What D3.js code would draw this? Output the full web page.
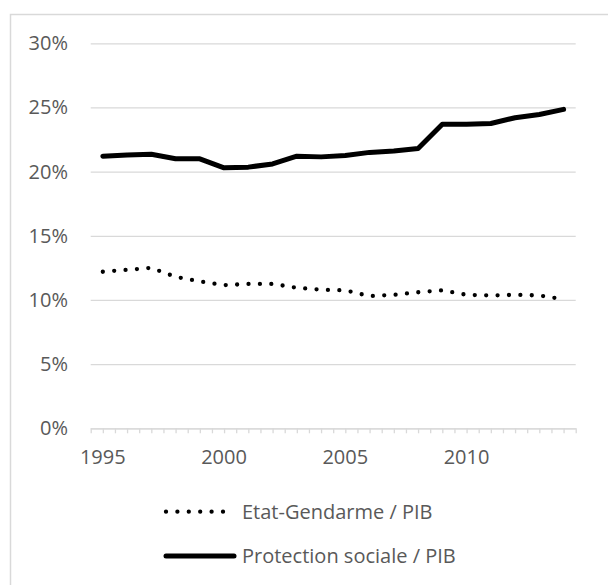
<!DOCTYPE html>
<html lang="fr">
  <head>
    <meta charset="UTF-8" />
    <title>Etat-Gendarme et Protection sociale / PIB</title>
    <script src="https://cdn.jsdelivr.net/npm/d3@7"></script>
    <style>
      body { margin: 0; background: #fff; }
      #chart { display: block; }
      text { font-family: 'Open Sans', 'Noto Sans', sans-serif; fill: #595959; }
    </style>
  </head>
  <body>
    <svg id="chart" width="608" height="585"></svg>
    <script>
      // données
      const years = d3.range(1995, 2015)
      const etatGendarme = [12.2, 12.35, 12.5, 11.8, 11.45, 11.15, 11.25, 11.25, 10.95, 10.8,
                            10.75, 10.3, 10.4, 10.6, 10.75, 10.4, 10.35, 10.4, 10.35, 10.05]
      const protectionSociale = [21.2, 21.3, 21.35, 21.0, 21.0, 20.3, 20.35, 20.6, 21.2, 21.15,
                                 21.25, 21.5, 21.6, 21.8, 23.7, 23.7, 23.75, 24.2, 24.45, 24.85]
      const yTicks = [0, 5, 10, 15, 20, 25, 30]
      const xLabels = [1995, 2000, 2005, 2010]
      const seriesNames = ['Etat-Gendarme / PIB', 'Protection sociale / PIB']

      const svg = d3.select('#chart')
      const plot = { left: 90.7, right: 575.7, top: 43.3, bottom: 428.3 }

      // cadre
      svg.append('rect')
        .attr('x', 10.5).attr('y', 14.5)
        .attr('width', 700).attr('height', 700)
        .attr('fill', 'none').attr('stroke', '#d9d9d9').attr('stroke-width', 1.5)

      const x = d3.scaleBand().domain(years).range([plot.left, plot.right])
      const xIdx = d3.scaleLinear().domain([-0.5, years.length - 0.5]).range([plot.left, plot.right])
      const y = d3.scaleLinear().domain([0, 30]).range([plot.bottom, plot.top])
      const cx = d => x(d) + x.bandwidth() / 2

      // grille + étiquettes Y
      const yAxis = svg.append('g')
        .attr('transform', `translate(${plot.left},0)`)
        .call(d3.axisLeft(y).tickValues(yTicks).tickSize(-(plot.right - plot.left))
          .tickPadding(22.7).tickFormat(d => d + '%'))
      yAxis.select('.domain').remove()
      yAxis.selectAll('line').attr('stroke', '#d9d9d9').attr('stroke-width', 1.3)
      yAxis.selectAll('text').attr('font-size', 20).attr('fill', '#595959')
        .style('font-family', "'Open Sans', sans-serif")

      // axe X (graduations entre catégories)
      const halfTicks = d3.range(-0.5, years.length - 0.49, 0.5)
      const xAxis = svg.append('g')
        .attr('transform', `translate(0,${plot.bottom})`)
        .call(d3.axisBottom(xIdx).tickValues(halfTicks).tickSize(5).tickSizeOuter(0).tickFormat(''))
      xAxis.selectAll('line, path').attr('stroke', '#d9d9d9').attr('stroke-width', 1.3)

      svg.append('g').selectAll('text')
        .data(xLabels)
        .join('text')
        .attr('x', d => cx(d))
        .attr('y', 456.7)
        .attr('dy', '0.35em')
        .attr('text-anchor', 'middle')
        .attr('font-size', 20)
        .text(d => d)

      // séries
      const line = d3.line().x((d, i) => cx(years[i])).y(d => y(d))

      svg.append('path')
        .datum(protectionSociale)
        .attr('d', line)
        .attr('fill', 'none')
        .attr('stroke', '#000')
        .attr('stroke-width', 5)
        .attr('stroke-linejoin', 'round')
        .attr('stroke-linecap', 'round')

      svg.append('path')
        .datum(etatGendarme)
        .attr('d', line)
        .attr('fill', 'none')
        .attr('stroke', '#000')
        .attr('stroke-width', 4.3)
        .attr('stroke-linecap', 'round')
        .attr('stroke-dasharray', '0 11.4')

      // légende
      const legend = svg.append('g')
      const rows = [
        { name: seriesNames[0], y: 511.7, dotted: true, x2: 226 },
        { name: seriesNames[1], y: 556, dotted: false, x2: 234 }
      ]
      rows.forEach(r => {
        legend.append('line')
          .attr('x1', 166).attr('x2', r.x2)
          .attr('y1', r.y).attr('y2', r.y)
          .attr('stroke', '#000')
          .attr('stroke-width', r.dotted ? 4.3 : 5)
          .attr('stroke-linecap', 'round')
          .attr('stroke-dasharray', r.dotted ? '0 11.4' : null)
        legend.append('text')
          .attr('x', 242)
          .attr('y', r.y)
          .attr('dy', '0.35em')
          .attr('font-size', 20)
          .text(r.name)
      })
    </script>
  </body>
</html>
